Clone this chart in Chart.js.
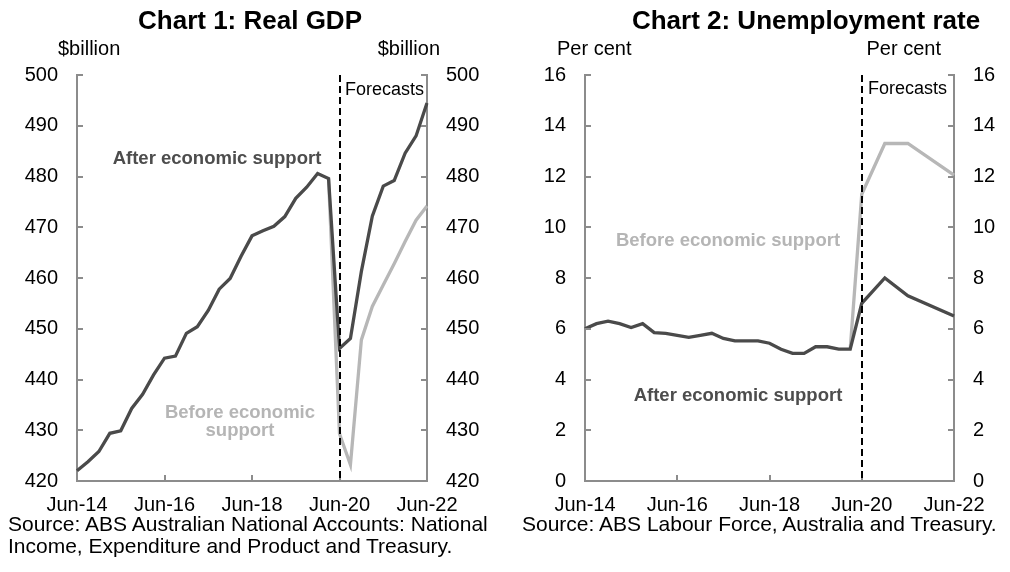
<!DOCTYPE html>
<html>
<head>
<meta charset="utf-8">
<script src="https://cdn.jsdelivr.net/npm/chart.js@4/dist/chart.umd.min.js"></script>
<style>
  html, body { margin:0; padding:0; background:#fff; }
  body { width:1010px; height:572px; position:relative; overflow:hidden; font-family:"Liberation Sans", Arial, sans-serif; }
  canvas { position:absolute; top:0; }
  .t { position:absolute; white-space:nowrap; line-height:1; color:#000; }
  .c { transform:translate(-50%,-50%); text-align:center; }
  .v { transform:translateY(-50%); }
  .title { font-size:26px; font-weight:bold; }
  .unit { font-size:20px; }
  .fc { font-size:18px; }
  .lab { font-size:18.5px; font-weight:bold; }
  .src { font-size:21px; line-height:22px; }
</style>
</head>
<body>
<canvas id="c1" width="505" height="572" style="left:0"></canvas>
<canvas id="c2" width="505" height="572" style="left:505px"></canvas>

<div class="t c title" style="left:250px;top:20px">Chart 1: Real GDP</div>
<div class="t c title" style="left:806px;top:20px">Chart 2: Unemployment rate</div>

<div class="t v unit" style="left:58px;top:48px">$billion</div>
<div class="t v unit" style="right:570px;top:48px">$billion</div>
<div class="t v unit" style="left:557px;top:48px">Per cent</div>
<div class="t v unit" style="right:69px;top:48px">Per cent</div>

<div class="t v fc" style="left:345px;top:89px">Forecasts</div>
<div class="t v fc" style="left:868px;top:88px">Forecasts</div>

<div class="t c lab" style="left:217px;top:158px;color:#4d4d4d">After economic support</div>
<div class="t c lab" style="left:240px;top:421px;color:#b5b5b5;line-height:18px">Before economic<br>support</div>
<div class="t c lab" style="left:728px;top:240px;color:#b5b5b5">Before economic support</div>
<div class="t c lab" style="left:738px;top:395px;color:#4d4d4d">After economic support</div>

<div class="t src" style="left:8px;top:513px">Source: ABS Australian National Accounts: National<br>Income, Expenditure and Product and Treasury.</div>
<div class="t src" style="left:522px;top:513px">Source: ABS Labour Force, Australia and Treasury.</div>

<script>
// ---------------- data ----------------
const quarters = ['Jun-14','Sep-14','Dec-14','Mar-15','Jun-15','Sep-15','Dec-15','Mar-16','Jun-16','Sep-16','Dec-16','Mar-17','Jun-17','Sep-17','Dec-17','Mar-18','Jun-18','Sep-18','Dec-18','Mar-19','Jun-19','Sep-19','Dec-19','Mar-20','Jun-20','Sep-20','Dec-20','Mar-21','Jun-21','Sep-21','Dec-21','Mar-22','Jun-22'];
const xTickLabels = ['Jun-14','Jun-16','Jun-18','Jun-20','Jun-22'];
const forecastStart = 'Jun-20';

const gdpAfter = [422.0,423.8,425.8,429.4,429.9,434.3,437.1,440.9,444.2,444.6,449.1,450.4,453.6,457.8,459.9,464.3,468.3,469.3,470.2,472.1,475.7,477.9,480.6,479.6,446.1,448.1,461.3,472.2,478.1,479.2,484.6,488.0,494.5];
const gdpBefore = [null,null,null,null,null,null,null,null,null,null,null,null,null,null,null,null,null,null,null,null,null,null,null,479.6,429.3,423.2,447.8,454.4,458.6,462.8,467.2,471.4,474.2];
const gdpTicks = [420,430,440,450,460,470,480,490,500];

const unempAfter = [6.0,6.2,6.3,6.2,6.05,6.2,5.85,5.82,5.74,5.66,5.74,5.82,5.62,5.52,5.52,5.52,5.43,5.19,5.03,5.03,5.29,5.29,5.2,5.2,7.0,null,8.0,null,7.3,null,null,null,6.5];
const unempBefore = [null,null,null,null,null,null,null,null,null,null,null,null,null,null,null,null,null,null,null,null,null,null,null,5.2,11.3,null,13.3,null,13.3,null,null,null,12.05];
const unempTicks = [0,2,4,6,8,10,12,14,16];

// ---------------- styles ----------------
const DARK = '#4a4a4a';
const LIGHT = '#b7b7b7';
const AXIS = '#8c8c8c';
Chart.defaults.font.family = '"Liberation Sans", Arial, sans-serif';
Chart.defaults.color = '#000';

const decor = {
  id: 'decor',
  afterDatasetsDraw(chart) {
    const ctx = chart.ctx, a = chart.chartArea;
    const xs = chart.scales.x, yl = chart.scales.y, yr = chart.scales.y2;
    ctx.save();
    ctx.strokeStyle = AXIS; ctx.lineWidth = 2; ctx.setLineDash([]);
    yl.ticks.forEach(t => {
      const p = Math.round(yl.getPixelForValue(t.value));
      ctx.beginPath(); ctx.moveTo(a.left, p); ctx.lineTo(a.left + 6, p); ctx.stroke();
    });
    yr.ticks.forEach(t => {
      const p = Math.round(yr.getPixelForValue(t.value));
      ctx.beginPath(); ctx.moveTo(a.right, p); ctx.lineTo(a.right - 6, p); ctx.stroke();
    });
    xTickLabels.forEach(l => {
      const p = Math.round(xs.getPixelForValue(quarters.indexOf(l)));
      ctx.beginPath(); ctx.moveTo(p, a.bottom); ctx.lineTo(p, a.bottom - 6); ctx.stroke();
    });
    const fx = Math.round(xs.getPixelForValue(quarters.indexOf(forecastStart)));
    ctx.strokeStyle = '#000'; ctx.lineWidth = 2; ctx.setLineDash([7, 4]);
    ctx.beginPath(); ctx.moveTo(fx, a.top); ctx.lineTo(fx, a.bottom); ctx.stroke();
    ctx.restore();
  }
};

function makeChart(id, after, before, ticks, leftW, rightW) {
  const yBase = (pos, w) => ({
    type: 'linear', position: pos,
    min: ticks[0], max: ticks[ticks.length - 1],
    afterBuildTicks(s) { s.ticks = ticks.map(v => ({ value: v })); },
    grid: { display: false, drawTicks: false },
    border: { display: true, color: AXIS, width: 2 },
    ticks: { font: { size: 20 }, color: '#000', padding: 19 },
    afterFit(s) { s.width = w; }
  });
  return new Chart(document.getElementById(id), {
    type: 'line',
    data: {
      labels: quarters,
      datasets: [
        { data: after, borderColor: DARK, borderWidth: 3.3, pointRadius: 0, tension: 0, spanGaps: true, yAxisID: 'y' },
        { data: before, borderColor: LIGHT, borderWidth: 3.3, pointRadius: 0, tension: 0, spanGaps: true, yAxisID: 'y' }
      ]
    },
    options: {
      responsive: false, animation: false, devicePixelRatio: 1,
      layout: { padding: { top: 75, left: 0, right: 0, bottom: 0 } },
      plugins: { legend: { display: false }, tooltip: { enabled: false } },
      scales: {
        x: {
          type: 'category', offset: false,
          grid: { display: false, drawTicks: false },
          border: { display: true, color: AXIS, width: 2 },
          ticks: {
            autoSkip: false, maxRotation: 0, minRotation: 0, padding: 12,
            font: { size: 20 }, color: '#000',
            callback(v) { const l = quarters[v]; return xTickLabels.includes(l) ? l : ''; }
          },
          afterFit(s) { s.height = 91; }
        },
        y: yBase('left', leftW),
        y2: yBase('right', rightW)
      }
    },
    plugins: [decor]
  });
}

makeChart('c1', gdpAfter, gdpBefore, gdpTicks, 77, 78);
makeChart('c2', unempAfter, unempBefore, unempTicks, 80, 56);
</script>
</body>
</html>
